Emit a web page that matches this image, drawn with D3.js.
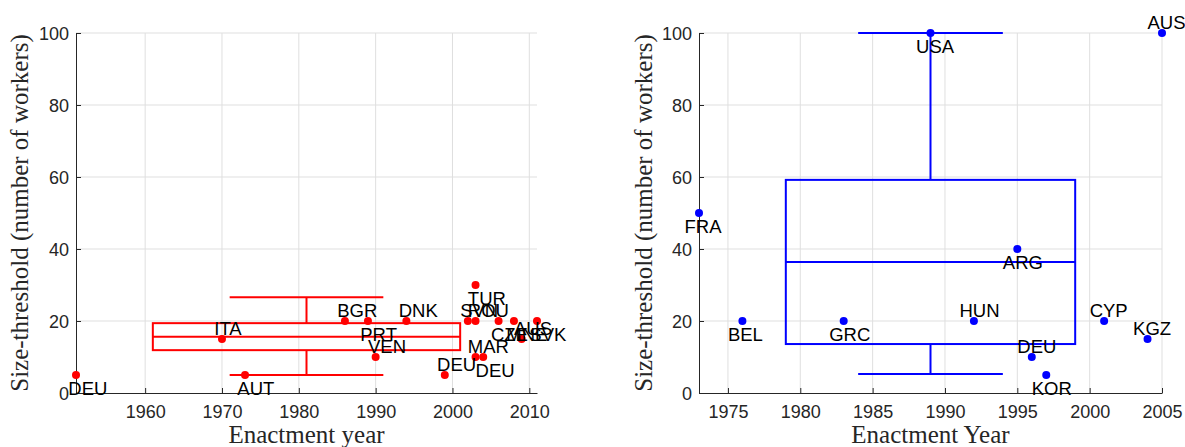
<!DOCTYPE html>
<html>
<head>
<meta charset="utf-8">
<script src="https://cdn.jsdelivr.net/npm/d3@7"></script>
<style>
  html, body { margin: 0; padding: 0; background: #fff; }
  svg { display: block; }
</style>
</head>
<body>
<div id="vis"></div>
<script>
'use strict'

////////////////////////////////////////
/////////////// Data ///////////////////
////////////////////////////////////////

// left panel (red)
const leftCountries = ["DEU", "ITA", "AUT", "BGR", "PRT", "VEN", "DNK", "DEU", "SVN", "ROU", "TUR", "MAR", "DEU", "CZE", "MNE", "AUS", "SVK"];
const leftYears = [1951, 1970, 1973, 1986, 1989, 1990, 1994, 1999, 2002, 2003, 2003, 2003, 2004, 2006, 2008, 2009, 2011];
const leftThresholds = [5, 15, 5, 20, 20, 10, 20, 5, 20, 20, 30, 10, 10, 20, 20, 15, 20];
const leftLabelSide = ["below", "above", "below", "above", "below", "above", "above", "above", "above", "above", "below", "above", "below", "below", "below", "above", "below"];
const leftBoxYears = [1961, 1981, 2001];               // low, mid, high
const leftBoxThresholds = [5, 11.9, 15.6, 19.4, 26.6];  // whisker lo, box lo, centre, box hi, whisker hi
const leftXTicks = [1960, 1970, 1980, 1990, 2000, 2010];

// right panel (blue)
const rightCountries = ["FRA", "BEL", "GRC", "USA", "HUN", "ARG", "DEU", "KOR", "CYP", "KGZ", "AUS"];
const rightYears = [1973, 1976, 1983, 1989, 1992, 1995, 1996, 1997, 2001, 2004, 2005];
const rightThresholds = [50, 20, 20, 100, 20, 40, 10, 5, 20, 15, 100];
const rightLabelSide = ["below", "below", "below", "below", "above", "below", "above", "below", "above", "above", "above"];
const rightBoxYears = [1979, 1989, 1999];
const rightBoxThresholds = [5.3, 13.6, 36.4, 59.2, 100];
const rightXTicks = [1975, 1980, 1985, 1990, 1995, 2000, 2005];

const yTicks = [0, 20, 40, 60, 80, 100];

////////////////////////////////////////
/////////////// Options ////////////////
////////////////////////////////////////

const options = {
  width: 1185,
  height: 447,
  top: 33,
  bottom: 393,
  axisColor: "#262626",
  gridColor: "#dfdfdf",
  tickFont: "'Liberation Sans', Arial, sans-serif",
  labelFont: "'Liberation Serif', 'Times New Roman', serif"
}

const panels = [
  {
    left: 76, right: 537, domain: [1951, 2011], ticks: leftXTicks, color: "#ff0000",
    countries: leftCountries, years: leftYears, values: leftThresholds, sides: leftLabelSide,
    boxYears: leftBoxYears, boxValues: leftBoxThresholds,
    xLabel: "Enactment year", yLabelX: 28
  },
  {
    left: 699, right: 1162, domain: [1973, 2005], ticks: rightXTicks, color: "#0000ff",
    countries: rightCountries, years: rightYears, values: rightThresholds, sides: rightLabelSide,
    boxYears: rightBoxYears, boxValues: rightBoxThresholds,
    xLabel: "Enactment Year", yLabelX: 652
  }
];

////////////////////////////////////////
////////////// SVG Setup ///////////////
////////////////////////////////////////

const svg = d3.select("#vis").append("svg")
  .attr("width", options.width)
  .attr("height", options.height);

////////////////////////////////////////
////////////// Draw panel //////////////
////////////////////////////////////////

function drawPanel(p) {

  const x = d3.scaleLinear().domain(p.domain).range([p.left, p.right]);
  const y = d3.scaleLinear().domain([0, 100]).range([options.bottom, options.top]);

  const g = svg.append("g");

  // grid
  g.append("g").selectAll("line")
    .data(p.ticks)
    .join("line")
    .attr("x1", d => x(d)).attr("x2", d => x(d))
    .attr("y1", options.top).attr("y2", options.bottom)
    .attr("stroke", options.gridColor);

  g.append("g").selectAll("line")
    .data(yTicks.filter(d => d > 0))
    .join("line")
    .attr("x1", p.left).attr("x2", p.right)
    .attr("y1", d => y(d)).attr("y2", d => y(d))
    .attr("stroke", options.gridColor);

  // axes (inward ticks)
  const xAxis = g.append("g")
    .attr("transform", `translate(0,${options.bottom})`)
    .call(d3.axisBottom(x).tickValues(p.ticks).tickFormat(d3.format("d"))
      .tickSize(-5).tickPadding(12).tickSizeOuter(0));

  const yAxis = g.append("g")
    .attr("transform", `translate(${p.left},0)`)
    .call(d3.axisLeft(y).tickValues(yTicks).tickSize(-5).tickPadding(7).tickSizeOuter(0));

  [xAxis, yAxis].forEach(a => {
    a.select(".domain").attr("stroke", options.axisColor).attr("stroke-width", 1);
    a.selectAll(".tick line").attr("stroke", options.axisColor);
    a.selectAll(".tick text")
      .attr("fill", options.axisColor)
      .style("font-family", options.tickFont)
      .style("font-size", "18px");
  });
  yAxis.selectAll(".tick text").attr("dy", "0.36em");

  // box summary
  const [yr0, yrMid, yr1] = p.boxYears;
  const [w0, b0, mid, b1, w1] = p.boxValues;
  const capHalf = (yr1 - yr0) / 4;
  const box = g.append("g")
    .attr("fill", "none")
    .attr("stroke", p.color)
    .attr("stroke-width", 2);

  box.append("rect")
    .attr("x", x(yr0)).attr("y", y(b1))
    .attr("width", x(yr1) - x(yr0)).attr("height", y(b0) - y(b1));

  box.append("line")
    .attr("x1", x(yr0)).attr("x2", x(yr1))
    .attr("y1", y(mid)).attr("y2", y(mid));

  box.append("line")
    .attr("x1", x(yrMid)).attr("x2", x(yrMid))
    .attr("y1", y(b1)).attr("y2", y(w1));

  box.append("line")
    .attr("x1", x(yrMid)).attr("x2", x(yrMid))
    .attr("y1", y(b0)).attr("y2", y(w0));

  box.selectAll(".cap")
    .data([w0, w1])
    .join("line")
    .attr("class", "cap")
    .attr("x1", x(yrMid - capHalf)).attr("x2", x(yrMid + capHalf))
    .attr("y1", d => y(d)).attr("y2", d => y(d));

  // points
  const pts = p.countries.map((c, i) => ({ name: c, year: p.years[i], value: p.values[i], side: p.sides[i] }));

  g.append("g").selectAll("circle")
    .data(pts)
    .join("circle")
    .attr("cx", d => x(d.year))
    .attr("cy", d => y(d.value))
    .attr("r", 4)
    .attr("fill", p.color);

  g.append("g").selectAll("text")
    .data(pts)
    .join("text")
    .attr("x", d => x(d.year - 1))
    .attr("y", d => y(d.value) + (d.side === "above" ? -11 : 13.5))
    .attr("dy", "0.36em")
    .attr("fill", "#000")
    .style("font-family", options.tickFont)
    .style("font-size", "18.5px")
    .text(d => d.name);

  // axis labels
  g.append("text")
    .attr("x", (p.left + p.right) / 2)
    .attr("y", 443)
    .attr("text-anchor", "middle")
    .attr("fill", options.axisColor)
    .style("font-family", options.labelFont)
    .style("font-size", "25px")
    .text(p.xLabel);

  g.append("text")
    .attr("transform", `translate(${p.yLabelX},${(options.top + options.bottom) / 2}) rotate(-90)`)
    .attr("text-anchor", "middle")
    .attr("fill", options.axisColor)
    .style("font-family", options.labelFont)
    .style("font-size", "25px")
    .text("Size-threshold (number of workers)");
}

panels.forEach(drawPanel);
</script>
</body>
</html>
